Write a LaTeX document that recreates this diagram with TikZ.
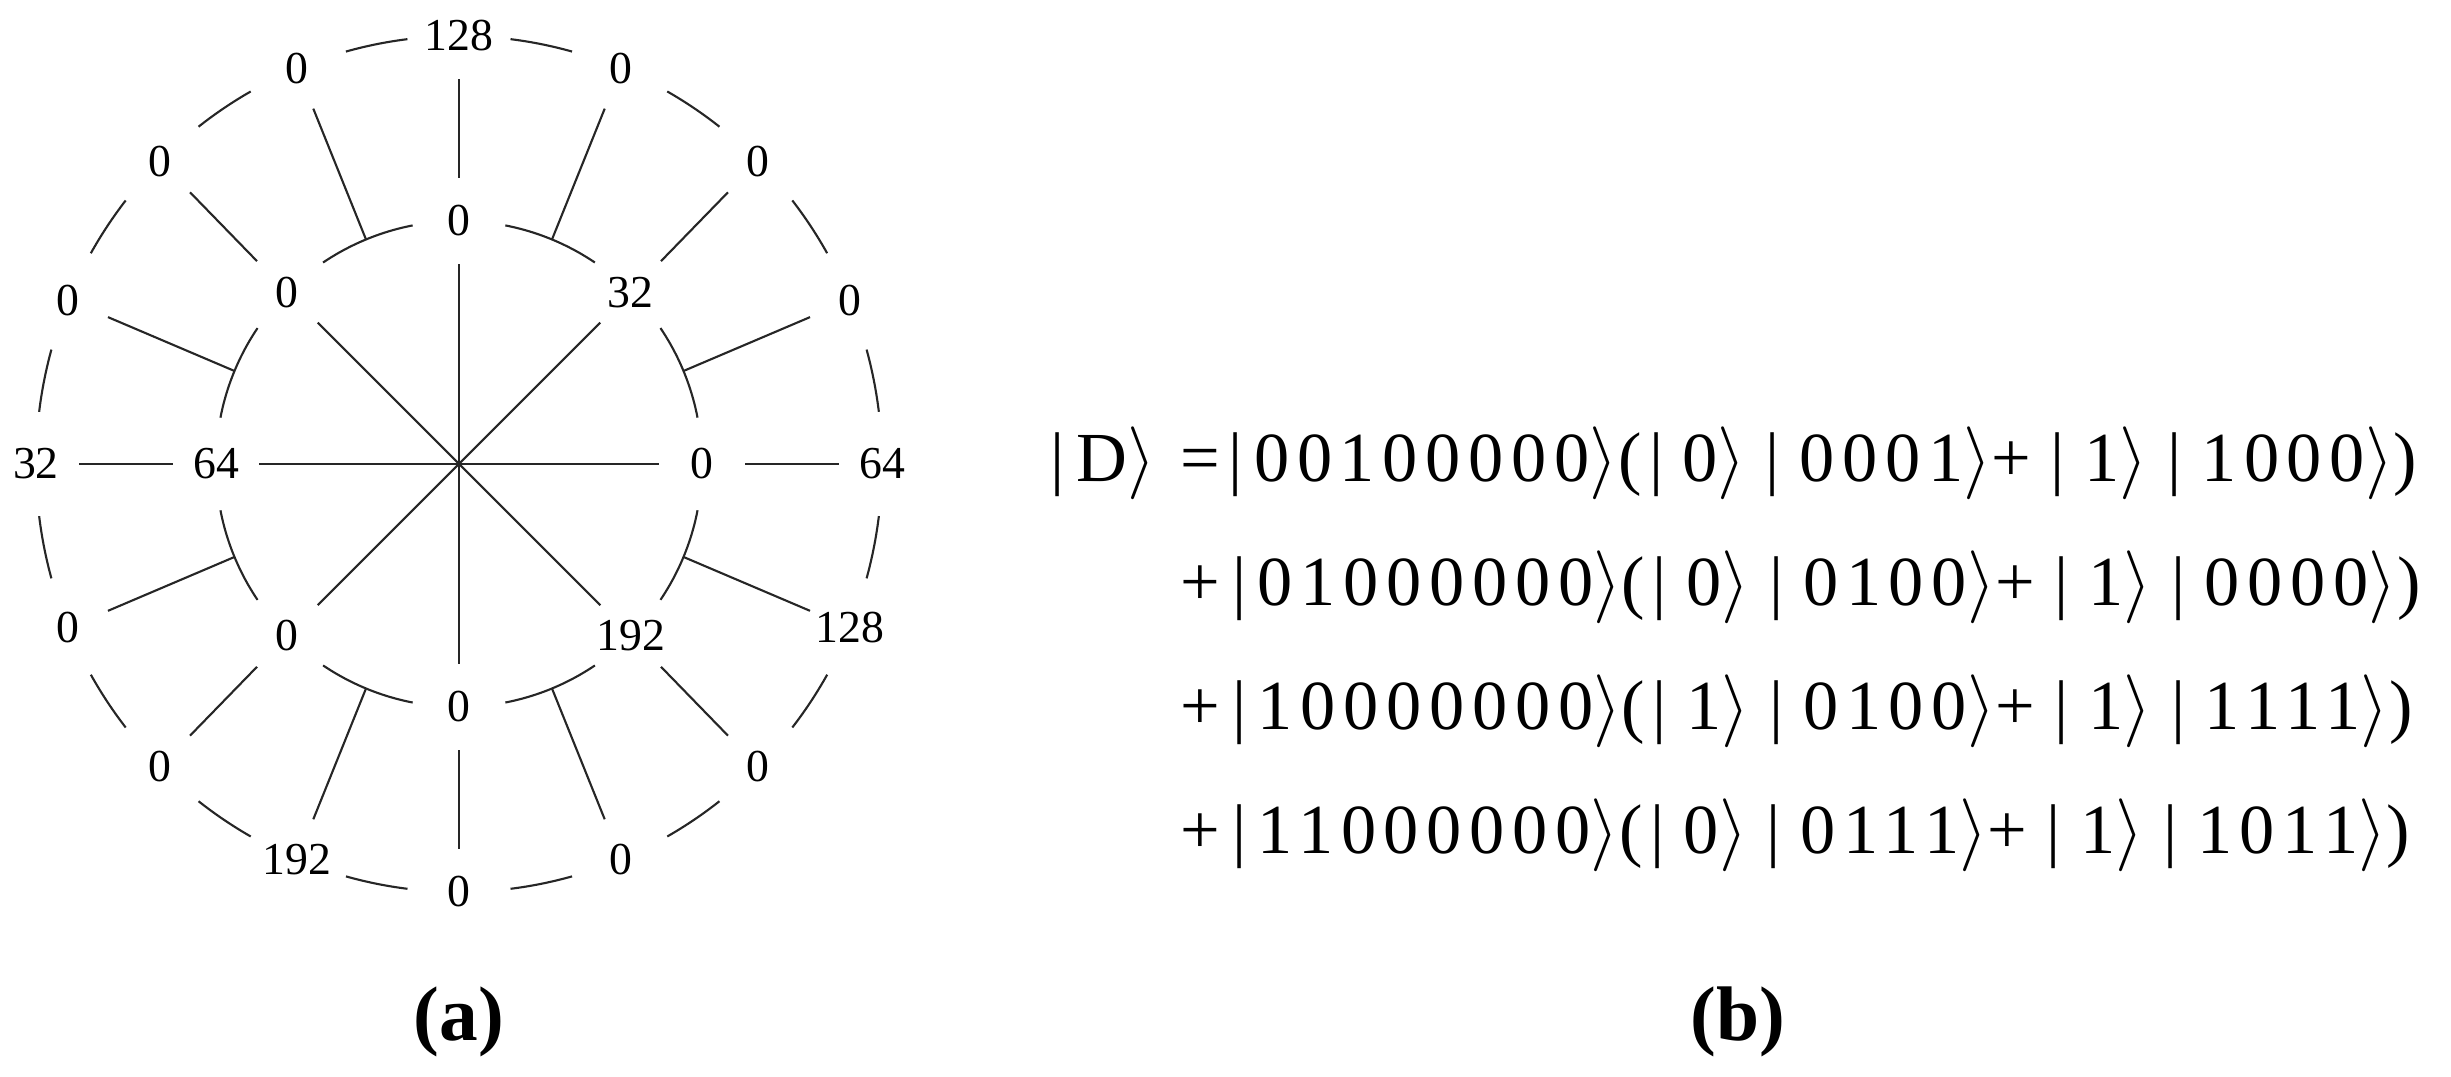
\documentclass[tikz,border=0pt]{standalone}
\usepackage{fontspec}
\setmainfont{Liberation Serif}
\newfontfamily\eqfont[LetterSpace=11]{Liberation Serif}
\newcommand{\rg}{\ensuremath{\rangle}}
\tikzset{
    ring-label/.style = {circle, inner sep=0pt, minimum size=8.5mm, font=\fontsize{13}{15}\selectfont},
    ring-line/.style = {black!85, line width=0.6pt},
    eq-line/.style = {anchor=base west, inner sep=0pt, font=\eqfont\fontsize{20}{24}\selectfont},
    part-label/.style = {font=\bfseries\fontsize{22}{26}\selectfont},
}

\begin{document}
\begin{tikzpicture}[x=0.01cm, y=0.01cm]
\useasboundingbox (0,0) rectangle (2451,1077);
\coordinate (O) at (459,613);
% outer ring
\foreach \lab [count=\k from 0] in {64,0,0,0,128,0,0,0,32,0,0,192,0,0,0,128}
    \node[ring-label] (o\k) at ({459+423*cos(22.5*\k)},{613+428*sin(22.5*\k)}) {\lab};
% inner ring
\foreach \lab [count=\k from 0] in {0,32,0,0,64,0,0,192}
    \node[ring-label] (i\k) at ({459+243*cos(45*\k)},{613+243*sin(45*\k)}) {\lab};
\foreach \k in {0,...,7}
    \coordinate (t\k) at ({459+243*cos(45*\k+22.5)},{613+243*sin(45*\k+22.5)});

% spokes, links and inner arcs
\foreach \k in {0,...,7} {
    \pgfmathtruncatemacro\ev{2*\k}
    \pgfmathtruncatemacro\od{2*\k+1}
    \draw[ring-line] (O) -- (i\k);
    \draw[ring-line] (i\k) -- (o\ev);
    \draw[ring-line] (t\k) -- (o\od);
    \draw[ring-line] ({459+243*cos(45*\k+11)},{613+243*sin(45*\k+11)})
        arc[start angle=45*\k+11, end angle=45*\k+34, radius=2.43cm];
}
% outer arcs
\foreach \k in {0,...,15}
    \draw[ring-line] ({459+423*cos(22.5*\k+7)},{613+428*sin(22.5*\k+7)})
        arc[start angle=22.5*\k+7, end angle=22.5*\k+15.5, x radius=4.23cm, y radius=4.28cm];

% state
\node[eq-line] (eq1) at (1050,595) {|\,D\rg\ =|\,00100000\rg(|\;0\rg\;|\;0001\rg+\;|\;1\rg\;|\;1000\rg)};
\node[eq-line] (eq2) at (1180,471) {+\,|\,01000000\rg(|\;0\rg\;|\;0100\rg+\;|\;1\rg\;|\;0000\rg)};
\node[eq-line] (eq3) at (1180,347) {+\,|\,10000000\rg(|\;1\rg\;|\;0100\rg+\;|\;1\rg\;|\;1111\rg)};
\node[eq-line] (eq4) at (1180,223) {+\,|\,11000000\rg(|\;0\rg\;|\;0111\rg+\;|\;1\rg\;|\;1011\rg)};

\node[part-label] (parta) at (459,55) {(a)};
\node[part-label] (partb) at (1738,55) {(b)};
\end{tikzpicture}
\end{document}
